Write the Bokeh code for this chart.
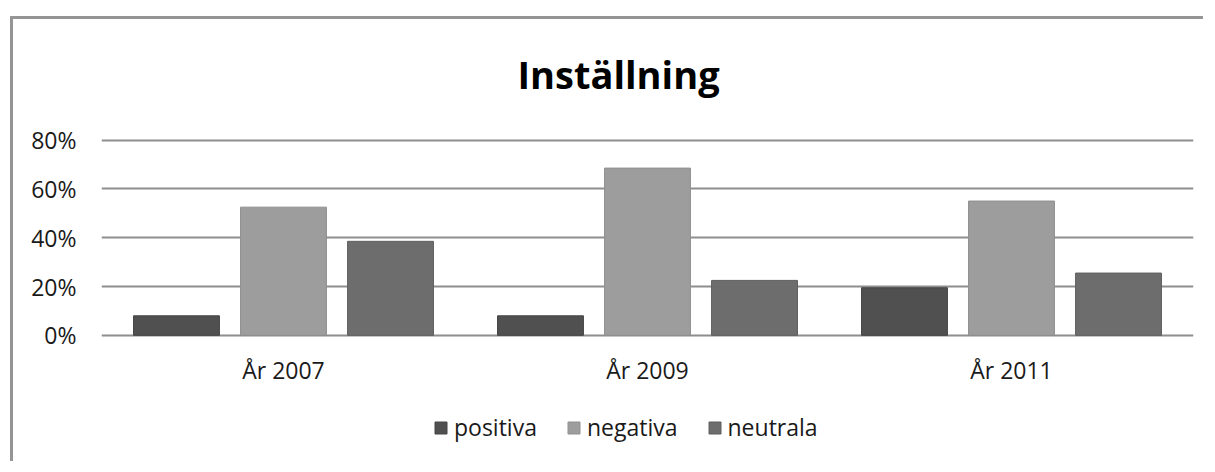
from bokeh.plotting import figure
from bokeh.models import (FactorRange, Range1d, Legend, LegendItem,
                          PrintfTickFormatter, FixedTicker, ColumnDataSource)
from bokeh.transform import dodge
from bokeh.embed import file_html
from bokeh.resources import INLINE

# ---- data ----
years = ["År 2007", "År 2009", "År 2011"]
series = ["positiva", "negativa", "neutrala"]
positiva = [8.0, 8.0, 19.5]
negativa = [52.5, 68.5, 55.0]
neutrala = [38.5, 22.5, 25.5]
y_ticks = [0, 20, 40, 60, 80]

# ---- style ----
fill_colors = ["#505050", "#9d9d9d", "#6d6d6d"]
line_colors = ["#454545", "#8f8f8f", "#5f5f5f"]
offsets = [-0.294, 0.0, 0.294]
FONT = "Open Sans"

src = ColumnDataSource(dict(year=years, positiva=positiva,
                            negativa=negativa, neutrala=neutrala))

# frame runs from a little above the 80% line down to the bottom of the
# canvas, so the legend (drawn inside the frame) is not clipped
p = figure(x_range=FactorRange(*years), y_range=Range1d(-52.9, 88.4),
           width=1193, height=445, output_backend="svg",
           toolbar_location=None, title="Inställning",
           min_border_left=88, min_border_right=13,
           min_border_top=100, min_border_bottom=0)
p.styles = {"margin-left": "10px", "margin-top": "16px",
            "border-left": "3px solid #959595",
            "border-top": "3px solid #959595"}

p.outline_line_color = None
p.background_fill_color = "white"
p.border_fill_color = "white"

p.title.text_font = FONT
p.title.text_font_size = "38px"
p.title.text_font_style = "bold"
p.title.text_color = "#000000"
p.title.align = "left"
p.title.offset = 416
p.title.standoff = 39

p.xgrid.grid_line_color = None
p.ygrid.ticker = FixedTicker(ticks=y_ticks)
p.ygrid.grid_line_color = "#8e8e8e"
p.ygrid.grid_line_width = 2

renderers = []
for name, off, fc, lc in zip(series, offsets, fill_colors, line_colors):
    r = p.vbar(x=dodge("year", off, range=p.x_range), top=name, width=0.236,
               source=src, fill_color=fc, line_color=lc, line_width=1)
    renderers.append(r)

p.yaxis.ticker = FixedTicker(ticks=y_ticks)
p.yaxis.formatter = PrintfTickFormatter(format="%d%%")
p.xaxis.fixed_location = 0
for ax in (p.xaxis, p.yaxis):
    ax.axis_line_color = None
    ax.major_tick_line_color = None
    ax.minor_tick_line_color = None
    ax.major_tick_out = 0
    ax.major_label_text_font = FONT
    ax.major_label_text_font_size = "23px"
    ax.major_label_text_color = "#1a1a1a"
p.yaxis.major_label_standoff = 25
p.xaxis.major_label_standoff = 19

legend = Legend(items=[LegendItem(label=s, renderers=[r])
                       for s, r in zip(series, renderers)],
                orientation="horizontal", location=(332, 21),
                padding=0, margin=0, spacing=29, label_standoff=6,
                glyph_width=15, glyph_height=15,
                label_text_font=FONT, label_text_font_size="23px",
                label_text_color="#1a1a1a",
                border_line_color=None, background_fill_alpha=0)
p.add_layout(legend)

open("out.html", "w").write(file_html(p, INLINE))
